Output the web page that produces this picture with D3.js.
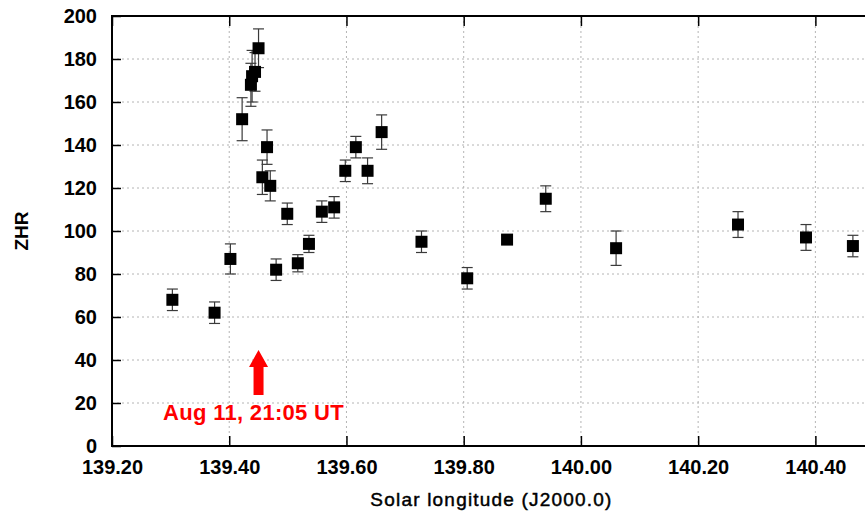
<!DOCTYPE html>
<html>
<head>
<meta charset="utf-8">
<script src="https://cdn.jsdelivr.net/npm/d3@7/dist/d3.min.js"></script>
<style>
  html, body { margin: 0; padding: 0; background: #fff; }
  svg { display: block; font-family: "Liberation Sans", Arial, Helvetica, sans-serif; }
</style>
</head>
<body>
<svg id="chart" width="865" height="513"></svg>
<script>
// ZHR observations vs. solar longitude (J2000.0)
const solarLongitude = [139.303, 139.375, 139.402, 139.422, 139.437, 139.439, 139.444, 139.450,
  139.4565, 139.4645, 139.470, 139.480, 139.499, 139.517, 139.536, 139.558, 139.579, 139.598,
  139.616, 139.636, 139.660, 139.728, 139.806, 139.874, 139.940, 140.060, 140.268, 140.384, 140.464];
const zhr = [68, 62, 87, 152, 168, 172, 174, 185,
  125, 139, 121, 82, 108, 85, 94, 109, 111, 128,
  139, 128, 146, 95, 78, 96, 115, 92, 103, 97, 93];
const zhrError = [5, 5, 7, 10, 10, 12, 9, 9,
  8, 8, 7, 5, 5, 4, 4, 5, 5, 5,
  5, 6, 8, 5, 5, 2, 6, 8, 6, 6, 5];

const xTicks = [139.2, 139.4, 139.6, 139.8, 140.0, 140.2, 140.4];
const yTicks = [0, 20, 40, 60, 80, 100, 120, 140, 160, 180, 200];

const peakLongitude = 139.45;
const peakLabel = "Aug 11, 21:05 UT";

const svg = d3.select("#chart");
const plotL = 112, plotR = 874, plotT = 16, plotB = 446;

const x = d3.scaleLinear().domain([139.2, 140.5]).range([plotL, plotR]);
const y = d3.scaleLinear().domain([0, 200]).range([plotB, plotT]);

// dotted grid
const grid = svg.append("g").attr("stroke", "#b4b4b4").attr("stroke-width", 1)
  .attr("stroke-dasharray", "2,3").attr("fill", "none");
grid.selectAll("line.v").data(xTicks.slice(1)).join("line").attr("class", "v")
  .attr("x1", d => x(d)).attr("x2", d => x(d)).attr("y1", plotT).attr("y2", plotB);
grid.selectAll("line.h").data(yTicks.slice(1, -1)).join("line").attr("class", "h")
  .attr("x1", plotL).attr("x2", plotR).attr("y1", d => y(d)).attr("y2", d => y(d));

// axes with inward ticks
const fmt = d3.format(".2f");
const axB = svg.append("g").attr("transform", `translate(0,${plotB})`)
  .call(d3.axisBottom(x).tickValues(xTicks).tickFormat(fmt).tickSize(-10).tickPadding(14));
const axT = svg.append("g").attr("transform", `translate(0,${plotT})`)
  .call(d3.axisTop(x).tickValues(xTicks).tickFormat("").tickSize(-10));
const axL = svg.append("g").attr("transform", `translate(${plotL},0)`)
  .call(d3.axisLeft(y).tickValues(yTicks).tickSize(-9).tickPadding(15));
const axR = svg.append("g").attr("transform", `translate(${plotR},0)`)
  .call(d3.axisRight(y).tickValues(yTicks).tickFormat("").tickSize(-9));
[axB, axT, axL, axR].forEach(a => {
  a.select(".domain").remove();
  a.selectAll(".tick line").attr("stroke", "#000").attr("stroke-width", 1.5);
  a.selectAll(".tick text").attr("fill", "#000").attr("font-size", 20)
    .attr("font-weight", "bold").attr("font-family", "Liberation Sans, Arial, sans-serif");
});

// frame
svg.append("rect").attr("x", plotL).attr("y", plotT).attr("width", plotR - plotL).attr("height", plotB - plotT)
  .attr("fill", "none").attr("stroke", "#000").attr("stroke-width", 2);

// error bars
const pts = solarLongitude.map((s, i) => ({ s, v: zhr[i], e: zhrError[i] }));
const eb = svg.append("g").attr("stroke", "#3a3a3a").attr("stroke-width", 1.2);
eb.selectAll("line.bar").data(pts).join("line").attr("class", "bar")
  .attr("x1", d => x(d.s)).attr("x2", d => x(d.s))
  .attr("y1", d => y(d.v + d.e)).attr("y2", d => y(d.v - d.e));
eb.selectAll("line.capT").data(pts).join("line").attr("class", "capT")
  .attr("x1", d => x(d.s) - 5.5).attr("x2", d => x(d.s) + 5.5)
  .attr("y1", d => y(d.v + d.e)).attr("y2", d => y(d.v + d.e));
eb.selectAll("line.capB").data(pts).join("line").attr("class", "capB")
  .attr("x1", d => x(d.s) - 5.5).attr("x2", d => x(d.s) + 5.5)
  .attr("y1", d => y(d.v - d.e)).attr("y2", d => y(d.v - d.e));

// square markers
svg.append("g").selectAll("rect").data(pts).join("rect")
  .attr("x", d => x(d.s) - 6).attr("y", d => y(d.v) - 6)
  .attr("width", 12).attr("height", 12).attr("fill", "#000");

// peak arrow and label
const ax = x(peakLongitude);
svg.append("path")
  .attr("d", `M${ax},350 L${ax + 9.5},367 L${ax + 5},367 L${ax + 5},395 L${ax - 5},395 L${ax - 5},367 L${ax - 9.5},367 Z`)
  .attr("fill", "#ff0000");
svg.append("text").attr("x", ax - 5).attr("y", 420).attr("text-anchor", "middle")
  .attr("fill", "#ff0000").attr("font-size", 22).attr("font-weight", "bold")
  .attr("letter-spacing", 0.3)
  .text(peakLabel);

// axis titles
svg.append("text").attr("transform", `translate(28,${(plotT + plotB) / 2}) rotate(-90)`)
  .attr("text-anchor", "middle").attr("font-size", 19).attr("font-weight", "bold")
  .text("ZHR");
svg.append("text").attr("x", 491.5).attr("y", 506).attr("text-anchor", "middle")
  .attr("font-size", 19).attr("letter-spacing", 1.2)
  .attr("stroke", "#000").attr("stroke-width", 0.45)
  .text("Solar longitude (J2000.0)");
</script>
</body>
</html>
